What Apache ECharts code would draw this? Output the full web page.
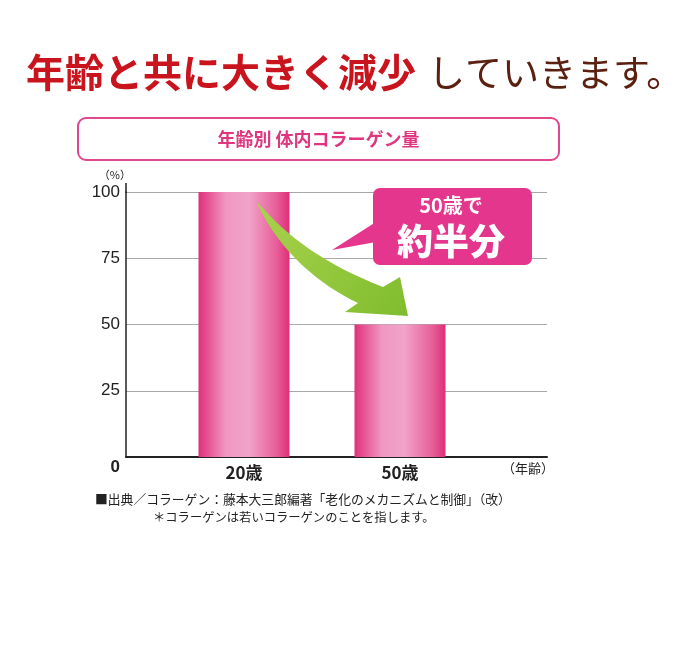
<!DOCTYPE html>
<html>
<head>
<meta charset="utf-8">
<script src="https://cdn.jsdelivr.net/npm/echarts@6/dist/echarts.min.js"></script>
<style>
html,body{margin:0;padding:0;background:#fff;}
#c{width:700px;height:648px;}
</style>
</head>
<body>
<div id="c"></div>
<script>
const categories = ['20歳', '50歳'];
const collagen = [100, 50];
const yMin = 0, yMax = 100, yStep = 25;
const titleRed = '年齢と共に大きく減少';
const titleBrown = 'していきます。';
const subTitle = '年齢別 体内コラーゲン量';
const calloutSmall = '50歳で';
const calloutBig = '約半分';
const xUnit = '（年齢）';
const yUnit = '（%）';
const note1 = '■出典／コラーゲン：藤本大三郎編著「老化のメカニズムと制御」（改）';
const note2 = '＊コラーゲンは若いコラーゲンのことを指します。';

const JP = '"Noto Sans CJK JP", "Noto Sans", sans-serif';

// decorative curved arrow shape
const GreenArrow = echarts.graphic.extendShape({
  shape: {},
  buildPath: function (ctx) {
    ctx.moveTo(258, 203);
    ctx.bezierCurveTo(287, 236, 322, 263, 383, 287);
    ctx.lineTo(400, 277);
    ctx.lineTo(408, 316);
    ctx.lineTo(345, 312);
    ctx.lineTo(358, 303);
    ctx.bezierCurveTo(320, 285, 280, 252, 258, 205);
    ctx.closePath();
  }
});
echarts.graphic.registerShape('greenArrow', GreenArrow);

const chart = echarts.init(document.getElementById('c'), null, {renderer: 'canvas'});

const barGrad = new echarts.graphic.LinearGradient(0, 0, 1, 0, [
  {offset: 0, color: '#e0307a'},
  {offset: 0.3, color: '#f097c2'},
  {offset: 0.55, color: '#f1a3c9'},
  {offset: 0.85, color: '#e7609a'},
  {offset: 1, color: '#df2e78'}
]);
const arrowGrad = new echarts.graphic.LinearGradient(0, 0, 1, 1, [
  {offset: 0, color: '#a9d24c'},
  {offset: 1, color: '#7fbd2e'}
]);

chart.setOption({
  animation: false,
  backgroundColor: '#fff',
  title: {
    text: '{r|' + titleRed + '}{b|' + titleBrown + '}',
    left: 21, top: 48,
    textStyle: {
      rich: {
        r: {fontFamily: JP, fontSize: 39, fontWeight: 'bold', color: '#c9141e'},
        b: {fontFamily: JP, fontSize: 37, fontWeight: 'normal', color: '#5b2010', padding: [0, 0, 0, 12]}
      }
    }
  },
  grid: [
    {left: 126, right: 153, top: 192, bottom: 191},
    {left: 166, width: 312, top: 192, bottom: 191}
  ],
  xAxis: [
    {gridIndex: 0, type: 'category', data: [''],
      axisLine: {lineStyle: {color: '#222', width: 2}},
      axisTick: {show: false}, axisLabel: {show: false}, splitLine: {show: false}},
    {gridIndex: 1, type: 'category', data: categories,
      axisLine: {show: false}, axisTick: {show: false},
      axisLabel: {fontFamily: JP, fontSize: 17, fontWeight: 'bold', color: '#222', margin: 7}}
  ],
  yAxis: [
    {gridIndex: 0, type: 'value', min: yMin, max: yMax, interval: yStep,
      name: yUnit, nameLocation: 'end', nameGap: 12,
      nameTextStyle: {fontFamily: JP, fontSize: 11, color: '#222', align: 'right', padding: [0, -5, 0, 0]},
      axisLine: {show: true, lineStyle: {color: '#222', width: 1.5}},
      axisTick: {show: false},
      splitLine: {lineStyle: {color: '#a8a8a8', width: 1}},
      axisLabel: {
        fontFamily: '"Liberation Sans", Arial, sans-serif', fontSize: 17, color: '#222', margin: 6,
        formatter: v => v === 0 ? '{z|0}' : String(v),
        rich: {z: {fontFamily: '"Liberation Sans", Arial, sans-serif', fontSize: 17, fontWeight: 'bold', color: '#222', padding: [20, 0, 0, 0]}}
      }},
    {gridIndex: 1, type: 'value', min: yMin, max: yMax, interval: yStep, show: false}
  ],
  series: [{
    type: 'bar', xAxisIndex: 1, yAxisIndex: 1,
    data: collagen, barWidth: 91,
    itemStyle: {color: barGrad}
  }],
  graphic: [
    {type: 'line', shape: {x1: 126, y1: 183, x2: 126, y2: 193}, style: {stroke: '#222', lineWidth: 1.5}, z: 10},
    {type: 'rect', shape: {x: 78, y: 118, width: 481, height: 42, r: 8},
      style: {fill: '#fff', stroke: '#e0478e', lineWidth: 2}},
    {type: 'text', x: 318.5, y: 139,
      style: {text: subTitle, fill: '#e0357f', font: 'bold 18px ' + JP, align: 'center', verticalAlign: 'middle'}},
    {type: 'greenArrow', z: 20, shape: {}, style: {fill: arrowGrad}},
    {type: 'polygon', z: 20, shape: {points: [[376, 222], [332, 250], [376, 242]]}, style: {fill: '#e4368c'}},
    {type: 'rect', z: 20, shape: {x: 373, y: 188, width: 159, height: 77, r: 7}, style: {fill: '#e4368c'}},
    {type: 'text', z: 21, x: 451, y: 205,
      style: {text: calloutSmall, fill: '#fff', font: 'bold 20px ' + JP, align: 'center', verticalAlign: 'middle'}},
    {type: 'text', z: 21, x: 451, y: 241,
      style: {text: calloutBig, fill: '#fff', font: '900 36px ' + JP, align: 'center', verticalAlign: 'middle'}},
    {type: 'text', x: 554, y: 468,
      style: {text: xUnit, fill: '#222', font: '13px ' + JP, align: 'right', verticalAlign: 'middle'}},
    {type: 'text', x: 95, y: 499,
      style: {text: note1, fill: '#222', font: '12.8px ' + JP, align: 'left', verticalAlign: 'middle'}},
    {type: 'text', x: 153, y: 517,
      style: {text: note2, fill: '#222', font: '12.3px ' + JP, align: 'left', verticalAlign: 'middle'}}
  ]
});
</script>
</body>
</html>
